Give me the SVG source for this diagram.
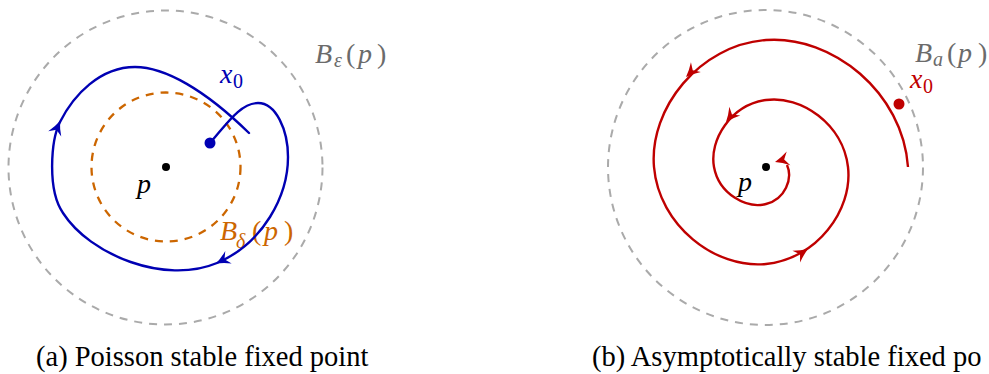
<svg xmlns="http://www.w3.org/2000/svg" xmlns:xlink="http://www.w3.org/1999/xlink" width="989" height="374" viewBox="0 0 989 374">
<style>
.ball{fill:none;stroke:#aaaaaa;stroke-width:2;stroke-dasharray:8 7}
.inner{fill:none;stroke:#cc6600;stroke-width:2.3;stroke-dasharray:8 7}
.blue{fill:none;stroke:#0000b3;stroke-width:2.4;stroke-linecap:round}
.red{fill:none;stroke:#bf0000;stroke-width:2.4;stroke-linecap:butt}
text{font-family:'Liberation Serif',Tinos,'Noto Serif','DejaVu Serif',FreeSerif,'Nimbus Roman','Times New Roman',Times,serif}
.m{font-size:28px;font-style:italic}
.u{font-style:normal}
.s{font-size:20px}
.cap{font-size:28.5px;fill:#000}
</style>
<defs>
<path id="ah" d="M0,0 Q-7,-2.5 -14,-7 L-9.5,0 L-14,7 Q-7,2.5 0,0 Z"/>
</defs>

<g id="panel-a">
  <g id="ball-eps">
    <circle class="ball" cx="165.5" cy="167.5" r="157"/>
    <text class="m" fill="#6b6b6b"><tspan x="315" y="63">B</tspan><tspan class="s" x="334" y="67">ε</tspan><tspan class="u" x="346" y="63">(</tspan><tspan x="358" y="63">p</tspan><tspan class="u" x="377" y="63">)</tspan></text>
  </g>
  <g id="ball-delta">
    <circle class="inner" cx="166" cy="167" r="74.5"/>
    <text class="m" fill="#cc6600"><tspan x="220" y="240">B</tspan><tspan class="s" x="236" y="248">δ</tspan><tspan class="u" x="252" y="240">(</tspan><tspan x="264" y="240">p</tspan><tspan class="u" x="284" y="240">)</tspan></text>
  </g>
  <g id="fixed-point-a">
    <circle cx="166" cy="167" r="4" fill="#000"/>
    <text class="m" fill="#000" x="137" y="193">p</text>
  </g>
  <g id="trajectory-a">
    <path class="blue" d="M210,143 C226,125 240,103 258,103 C276,103 288,130 288,157 C288,195 264,243 217,263 C165,285 90,255 63,213 C47,190 51,140 60,122 C73.5,95 100,67 135,67 C165,67 205,90 249,133"/>
    <use xlink:href="#ah" fill="#0000b3" transform="translate(60,121) rotate(-68)"/>
    <use xlink:href="#ah" fill="#0000b3" transform="translate(216,263.5) rotate(153)"/>
    <circle cx="210" cy="143" r="5.5" fill="#0000b3"/>
    <text class="m" fill="#0000b3"><tspan x="220" y="83">x</tspan><tspan class="s u" x="233" y="88">0</tspan></text>
  </g>
  <text class="cap" x="36" y="366">(a) Poisson stable fixed point</text>
</g>

<g id="panel-b">
  <g id="ball-a">
    <circle class="ball" cx="765.5" cy="167.5" r="157.5"/>
    <text class="m" fill="#6b6b6b"><tspan x="915" y="62">B</tspan><tspan class="s" x="933" y="66">a</tspan><tspan class="u" x="947" y="62">(</tspan><tspan x="958" y="62">p</tspan><tspan class="u" x="978" y="62">)</tspan></text>
  </g>
  <g id="fixed-point-b">
    <circle cx="766" cy="167" r="4" fill="#000"/>
    <text class="m" fill="#000" x="738" y="191">p</text>
  </g>
  <g id="trajectory-b">
    <path class="red" d="M908,167 C903,92.6 832.5,35 766,40 C699.5,45 649,108.4 654,167 C659,225.6 715.2,269 766,264 C816.8,259 853,209.9 848,167 C843,124.1 801.1,95 766,100 C730.9,105 709,139.8 714,167 C719,194.2 746.6,209 766,204 C785.4,199 793,178.5 787,165"/>
    <use xlink:href="#ah" fill="#bf0000" transform="translate(686,77) rotate(135)"/>
    <use xlink:href="#ah" fill="#bf0000" transform="translate(808,249) rotate(-33)"/>
    <use xlink:href="#ah" fill="#bf0000" transform="translate(726,122) rotate(129)"/>
    <use xlink:href="#ah" fill="#bf0000" transform="translate(775,162) rotate(165)"/>
    <circle cx="899" cy="104" r="5.5" fill="#bf0000"/>
    <text class="m" fill="#bf0000"><tspan x="910" y="88">x</tspan><tspan class="s u" x="923" y="93">0</tspan></text>
  </g>
  <text class="cap" x="592" y="366">(b) Asymptotically stable fixed po</text>
</g>
</svg>
